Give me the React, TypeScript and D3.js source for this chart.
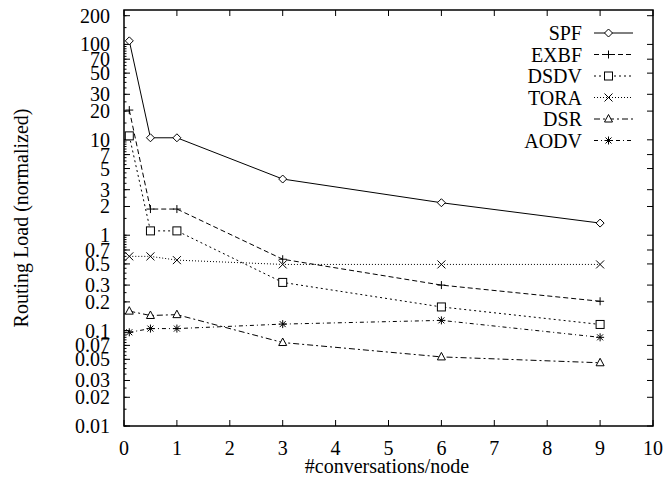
import React from "react";
import * as d3 from "d3";

const xValues = [0.1, 0.5, 1, 3, 6, 9];
const seriesNames = ["SPF", "EXBF", "DSDV", "TORA", "DSR", "AODV"];
const spf = [109, 10.5, 10.5, 3.88, 2.19, 1.34];
const exbf = [20.5, 1.88, 1.88, 0.56, 0.3, 0.203];
const dsdv = [11.0, 1.11, 1.11, 0.32, 0.177, 0.116];
const tora = [0.6, 0.6, 0.548, 0.494, 0.494, 0.494];
const dsr = [0.16, 0.144, 0.147, 0.075, 0.053, 0.046];
const aodv = [0.096, 0.105, 0.105, 0.117, 0.128, 0.085];
const seriesValues = [spf, exbf, dsdv, tora, dsr, aodv];
const xTicks = [0, 1, 2, 3, 4, 5, 6, 7, 8, 9, 10];
const yTicks = [0.01, 0.02, 0.03, 0.05, 0.07, 0.1, 0.2, 0.3, 0.5, 0.7, 1, 2, 3, 5, 7, 10, 20, 30, 50, 70, 100, 200];
const yTickLabels = ["0.01", "0.02", "0.03", "0.05", "0.07", "0.1", "0.2", "0.3", "0.5", "0.7", "1", "2", "3", "5", "7", "10", "20", "30", "50", "70", "100", "200"];

const dashes = ["", "5,3", "2,3", "1,2", "6,3,2,3", "4,3,1,3"];
const markers = ["diamond", "plus", "square", "cross", "triangle", "star"];

const L = 124, R = 653, T = 10, B = 426;
const FONT = "'Liberation Serif', 'Times New Roman', serif";

function Marker({ type, x, y }: { type: string; x: number; y: number }) {
  const s = 4;
  const common = { fill: "none", stroke: "#000", strokeWidth: 1 } as any;
  switch (type) {
    case "diamond":
      return <path d={`M${x},${y - s}L${x + s},${y}L${x},${y + s}L${x - s},${y}Z`} {...common} fill="#fff" />;
    case "plus":
      return <path d={`M${x - s},${y}H${x + s}M${x},${y - s}V${y + s}`} {...common} />;
    case "square":
      return <rect x={x - s} y={y - s} width={2 * s} height={2 * s} {...common} fill="#fff" />;
    case "cross":
      return <path d={`M${x - s},${y - s}L${x + s},${y + s}M${x - s},${y + s}L${x + s},${y - s}`} {...common} />;
    case "triangle":
      return <path d={`M${x},${y - s - 0.5}L${x + s},${y + s - 1}L${x - s},${y + s - 1}Z`} {...common} fill="#fff" />;
    case "star":
      return <path d={`M${x - s},${y}H${x + s}M${x},${y - s}V${y + s}M${x - s + 1},${y - s + 1}L${x + s - 1},${y + s - 1}M${x - s + 1},${y + s - 1}L${x + s - 1},${y - s + 1}`} {...common} />;
    default:
      return null;
  }
}

export default function App() {
  const x = d3.scaleLinear().domain([0, 10]).range([L, R]);
  const yTopVal = Math.pow(10, 2.301 + 5.7 / 95.3);
  const y = d3.scaleLog().domain([0.01, yTopVal]).range([B, T]);
  const line = d3.line<number>().x((_, i) => x(xValues[i])).y((v) => y(v));

  const minor: number[] = [];
  for (let e = -2; e <= 2; e++) {
    for (let m = 1; m < 10; m += 0.5) {
      const v = m * Math.pow(10, e);
      if (v >= 0.01 && v <= yTopVal) minor.push(v);
    }
  }

  const legX2 = 633, legX1 = 594, legTextX = 582, legY0 = 33, legDy = 21.5;

  return (
    <svg width={664} height={483} style={{ position: "absolute", left: 0, top: 0, background: "#fff" }} fontFamily={FONT}>
      <rect x={0} y={0} width={664} height={483} fill="#fff" />
      {minor.map((v, i) => (
        <line key={"mn" + i} x1={L} x2={L + 2.5} y1={y(v)} y2={y(v)} stroke="#000" strokeWidth={1} />
      ))}
      {yTicks.map((v, i) => (
        <g key={"yt" + i}>
          <line x1={L} x2={L + 6} y1={y(v)} y2={y(v)} stroke="#000" />
          <line x1={R} x2={R - 6} y1={y(v)} y2={y(v)} stroke="#000" />
          <text x={110} y={y(v)} dy="0.35em" textAnchor="end" fontSize={20}>{yTickLabels[i]}</text>
        </g>
      ))}
      {xTicks.map((v) => (
        <g key={"xt" + v}>
          <line x1={x(v)} x2={x(v)} y1={B} y2={B - 6} stroke="#000" />
          <line x1={x(v)} x2={x(v)} y1={T} y2={T + 6} stroke="#000" />
          <text x={x(v)} y={448} dy="0.35em" textAnchor="middle" fontSize={20}>{v}</text>
        </g>
      ))}
      <rect x={L} y={T} width={R - L} height={B - T} fill="none" stroke="#000" strokeWidth={1.5} />
      {seriesValues.map((vals, si) => (
        <g key={"s" + si}>
          <path d={line(vals) || ""} fill="none" stroke="#000" strokeWidth={1} strokeDasharray={dashes[si]} />
          {vals.map((v, i) => (
            <Marker key={i} type={markers[si]} x={x(xValues[i])} y={y(v)} />
          ))}
        </g>
      ))}
      {seriesNames.map((n, i) => {
        const ly = legY0 + i * legDy;
        return (
          <g key={"lg" + i}>
            <text x={legTextX} y={ly} dy="0.35em" textAnchor="end" fontSize={20}>{n}</text>
            <line x1={legX1} x2={legX2} y1={ly} y2={ly} stroke="#000" strokeDasharray={dashes[i]} />
            <Marker type={markers[i]} x={(legX1 + legX2) / 2 - 5} y={ly} />
          </g>
        );
      })}
      <text x={387} y={466} dy="0.35em" textAnchor="middle" fontSize={20}>#conversations/node</text>
      <text transform={`translate(21,218) rotate(-90)`} textAnchor="middle" dy="0.35em" fontSize={20}>Routing Load (normalized)</text>
    </svg>
  );
}
